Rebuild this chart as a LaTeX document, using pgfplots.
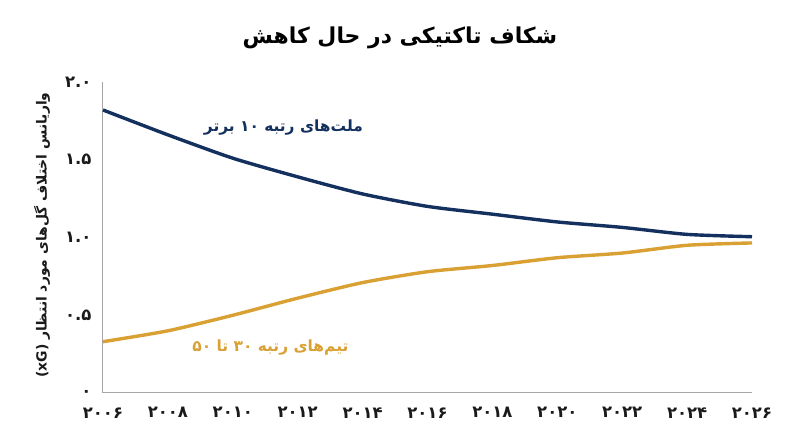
\documentclass[border=0pt]{standalone}
\usepackage{fontspec}
\usepackage{pgfplots}
\pgfplotsset{compat=1.18}
\TeXXeTstate=1
\setmainfont{DejaVu Sans}
\newfontfamily\arabicfont[Script=Arabic]{DejaVu Sans}
\definecolor{navy}{HTML}{14305E}
\definecolor{gold}{HTML}{D9A033}
\definecolor{axisgray}{HTML}{A6A6A6}
\definecolor{ink}{HTML}{1A1A1A}

\begin{document}
\begin{tikzpicture}
    \path[use as bounding box] (-103bp,-54bp) rectangle (697bp,393bp);
    \begin{axis}[
            scale only axis,
            width=649bp, height=311bp,
            xmin=2006, xmax=2026,
            ymin=0, ymax=2,
            clip=false,
            axis x line*=bottom,
            axis y line*=left,
            axis line style={axisgray, line width=1bp},
            major tick length=0pt,
            xtick={2006,2008,...,2026},
            xticklabels={۲۰۰۶,۲۰۰۸,۲۰۱۰,۲۰۱۲,۲۰۱۴,۲۰۱۶,۲۰۱۸,۲۰۲۰,۲۰۲۲,۲۰۲۴,۲۰۲۶},
            ytick={0,0.5,1,1.5,2},
            yticklabels={۰,۰.۵,۱.۰,۱.۵,۲.۰},
            xticklabel style={font=\arabicfont\bfseries\fontsize{16.5}{19}\selectfont, text=ink, yshift=-11bp},
            yticklabel style={font=\arabicfont\bfseries\fontsize{16.5}{19}\selectfont, text=ink, xshift=-8bp},
        ]

        % top 10 nations
        \addplot[navy, line width=3.4bp, smooth, tension=0.4] coordinates {
                (2006,1.82)(2008,1.66)(2010,1.51)(2012,1.39)(2014,1.28)(2016,1.20)
                (2018,1.15)(2020,1.10)(2022,1.065)(2024,1.02)(2026,1.005)
            };
        % teams ranked 30 to 50
        \addplot[gold, line width=3.4bp, smooth, tension=0.4] coordinates {
                (2006,0.33)(2008,0.40)(2010,0.50)(2012,0.61)(2014,0.71)(2016,0.78)
                (2018,0.82)(2020,0.87)(2022,0.90)(2024,0.95)(2026,0.965)
            };

        \node[text=navy, font=\arabicfont\bfseries\fontsize{15.5}{18}\selectfont]
            at (axis cs:2011.56,1.71)
            {\beginR ملت^^^^200cهای رتبه \beginL۱۰\endL{} برتر\endR};
        \node[text=gold, font=\arabicfont\bfseries\fontsize{15.5}{18}\selectfont]
            at (axis cs:2011.16,0.29)
            {\beginR تیم^^^^200cهای رتبه \beginL۳۰\endL{} تا \beginL۵۰\endL{}\endR};
    \end{axis}

    \node[text=black, font=\arabicfont\bfseries\fontsize{22}{26}\selectfont]
        at (297bp,355bp) {\beginR شکاف تاکتیکی در حال کاهش\endR};
    \node[rotate=90, text=ink, font=\arabicfont\bfseries\fontsize{14}{17}\selectfont]
        at (-61bp,158bp)
        {\beginR واریانس اختلاف گل^^^^200cهای مورد انتظار \beginL(xG)\endL{}\endR};
\end{tikzpicture}
\end{document}
